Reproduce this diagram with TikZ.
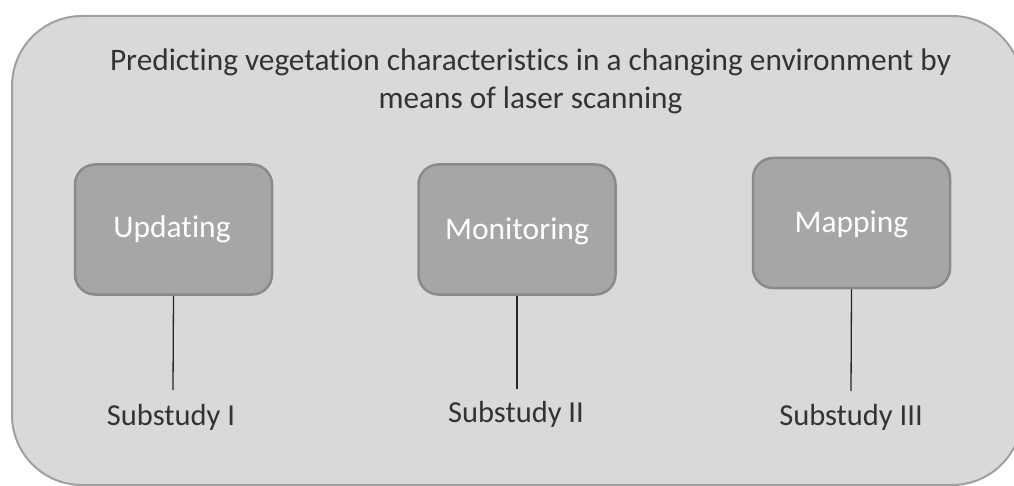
\documentclass[tikz,border=0pt]{standalone}
\usepackage{fontspec}
\setmainfont{Carlito}[Ligatures=NoCommon]
\definecolor{outerfill}{HTML}{D9D9D9}
\definecolor{outerdraw}{HTML}{A0A0A0}
\definecolor{boxfill}{HTML}{A6A6A6}
\definecolor{boxdraw}{HTML}{8A8A8A}
\definecolor{txt}{HTML}{333333}
\begin{document}
\begin{tikzpicture}[x=1pt,y=-1pt,
  phase/.style={draw=boxdraw,fill=boxfill,line width=2.5pt,rounded corners=20pt,minimum width=197pt,minimum height=130pt,inner sep=0pt},
  phaselabel/.style={text=white,font=\fontsize{31.5}{38}\selectfont,anchor=base,inner sep=0pt},
  sub/.style={text=txt,font=\fontsize{30.5}{36}\selectfont,inner sep=0pt,anchor=base},
  link/.style={draw=black!85,line width=1.3pt}]
\useasboundingbox (0,0) rectangle (1014,486);
\draw[fill=outerfill,draw=outerdraw,line width=2pt,rounded corners=70pt] (12,16) rectangle (1022,485);
\node[text=txt,font=\fontsize{31.3}{38}\selectfont,align=center,anchor=base,inner sep=0pt] (title) at (530.5,109) {Predicting vegetation characteristics in a changing environment by\\means of laser scanning};
\node[phase] (upd) at (173.5,229.5) {};
\node[phaselabel] at (172,238) {Updating};
\node[phase] (mon) at (517,229.5) {};
\node[phaselabel] at (517,240) {Monitoring};
\node[phase] (map) at (851.5,223) {};
\node[phaselabel] at (851.5,233) {Mapping};
\node[sub] (s1) at (171,425) {Substudy I};
\node[sub] (s2) at (516,422) {Substudy II};
\node[sub] (s3) at (851,425) {Substudy III};
\coordinate (e1) at (173,390);
\coordinate (e2) at (517,389);
\coordinate (e3) at (851,391);
\draw[link] (upd.south) -- (e1);
\draw[link] (mon.south) -- (e2);
\draw[link] (map.south) -- (e3);
\end{tikzpicture}
\end{document}
